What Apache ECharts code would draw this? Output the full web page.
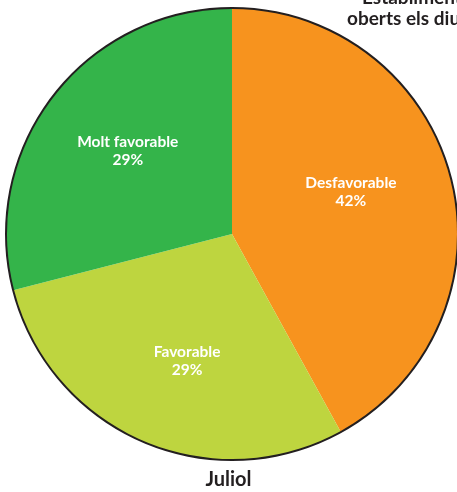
<!DOCTYPE html>
<html>
<head>
<meta charset="utf-8">
<script src="https://cdn.jsdelivr.net/npm/echarts@6/dist/echarts.min.js"></script>
<style>
  html, body { margin: 0; padding: 0; background: #fff; }
  #chart { width: 457px; height: 492px; }
</style>
</head>
<body>
<div id="chart"></div>
<script>
// dades del gràfic
const categories = ["Desfavorable", "Favorable", "Molt favorable"];
const values = [42, 29, 29];
const colors = ["#F7931E", "#BED53F", "#34B44A"];
const periodLabel = "Juliol";
const titleLines = ["Establiments", "oberts els diumenges"];

// desplaçament de cada etiqueta respecte de la posició interior
const labelShift = [[7, -13], [1, 21], [-13, -12]];

const chart = echarts.init(document.getElementById("chart"));

chart.setOption({
  backgroundColor: "#fff",
  animation: false,
  graphic: [
    {
      type: "text", left: 362, top: -12,
      style: { text: titleLines[0], font: "bold 19px Lato", fill: "#231f20" }
    },
    {
      type: "text", left: 347, top: 9,
      style: { text: titleLines[1], font: "bold 19px Lato", fill: "#231f20" }
    },
    {
      type: "text", left: "center", top: 470,
      style: { text: periodLabel, font: "bold 20px Lato", fill: "#231f20" }
    }
  ],
  series: [
    {
      // vora fosca exterior
      type: "pie",
      center: [232, 234],
      radius: [224, 227],
      silent: true,
      label: { show: false },
      labelLine: { show: false },
      itemStyle: { color: "#231f20" },
      data: [{ value: 1 }]
    },
    {
      type: "pie",
      center: [232, 234],
      radius: 225,
      startAngle: 90,
      clockwise: true,
      silent: true,
      label: {
        show: true,
        position: "inside",
        color: "#fff",
        fontFamily: "Lato",
        fontWeight: "bold",
        fontSize: 15.5,
        lineHeight: 18,
        formatter: function (p) { return p.name + "\n" + p.value + "%"; }
      },
      labelLayout: function (p) {
        const s = labelShift[p.dataIndex];
        return { dx: s[0], dy: s[1] };
      },
      labelLine: { show: false },
      data: categories.map(function (c, i) {
        return { name: c, value: values[i], itemStyle: { color: colors[i] } };
      })
    }
  ]
});
</script>
</body>
</html>
